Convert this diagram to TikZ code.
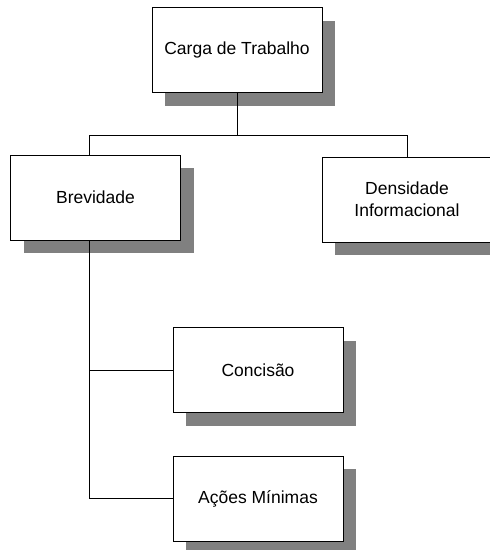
\documentclass[tikz,border=0pt]{standalone}
\usepackage{fontspec}
\setmainfont{Liberation Sans}
\usetikzlibrary{shadows}
\definecolor{sombra}{RGB}{128,128,128}
\begin{document}
\begin{tikzpicture}[x=1pt,y=-1pt,
		caixa/.style={draw,line width=1pt,fill=white,minimum width=170pt,minimum height=85pt,align=center,
			font=\fontsize{17.5}{22}\selectfont,
			drop shadow={shadow xshift=13pt,shadow yshift=-13pt,fill=sombra,opacity=1}},
		liga/.style={line width=1pt}]
			\useasboundingbox (0,0) rectangle (490,550);
			\node[caixa] (carga) at (237,50) {Carga de Trabalho};
			\node[caixa] (brev) at (95.5,197.5) {Brevidade};
			\node[caixa] (dens) at (407,199.5) {Densidade\\Informacional};
			\node[caixa] (conc) at (258,370) {Concisão};
			\node[caixa] (acoes) at (258,498.5) {Ações Mínimas};
			\coordinate (jl) at (89,135);
			\coordinate (jr) at (407,135);
			\draw[liga] (carga.south) -- (carga.south |- jl);
			\draw[liga] (jl) -- (jr);
			\draw[liga] (jl) -- (jl |- brev.north);
			\draw[liga] (jr) -- (dens.north);
			\draw[liga] (jl |- brev.south) -- (jl |- acoes.west) -- (acoes.west);
			\draw[liga] (jl |- conc.west) -- (conc.west);
		\end{tikzpicture}
\end{document}
